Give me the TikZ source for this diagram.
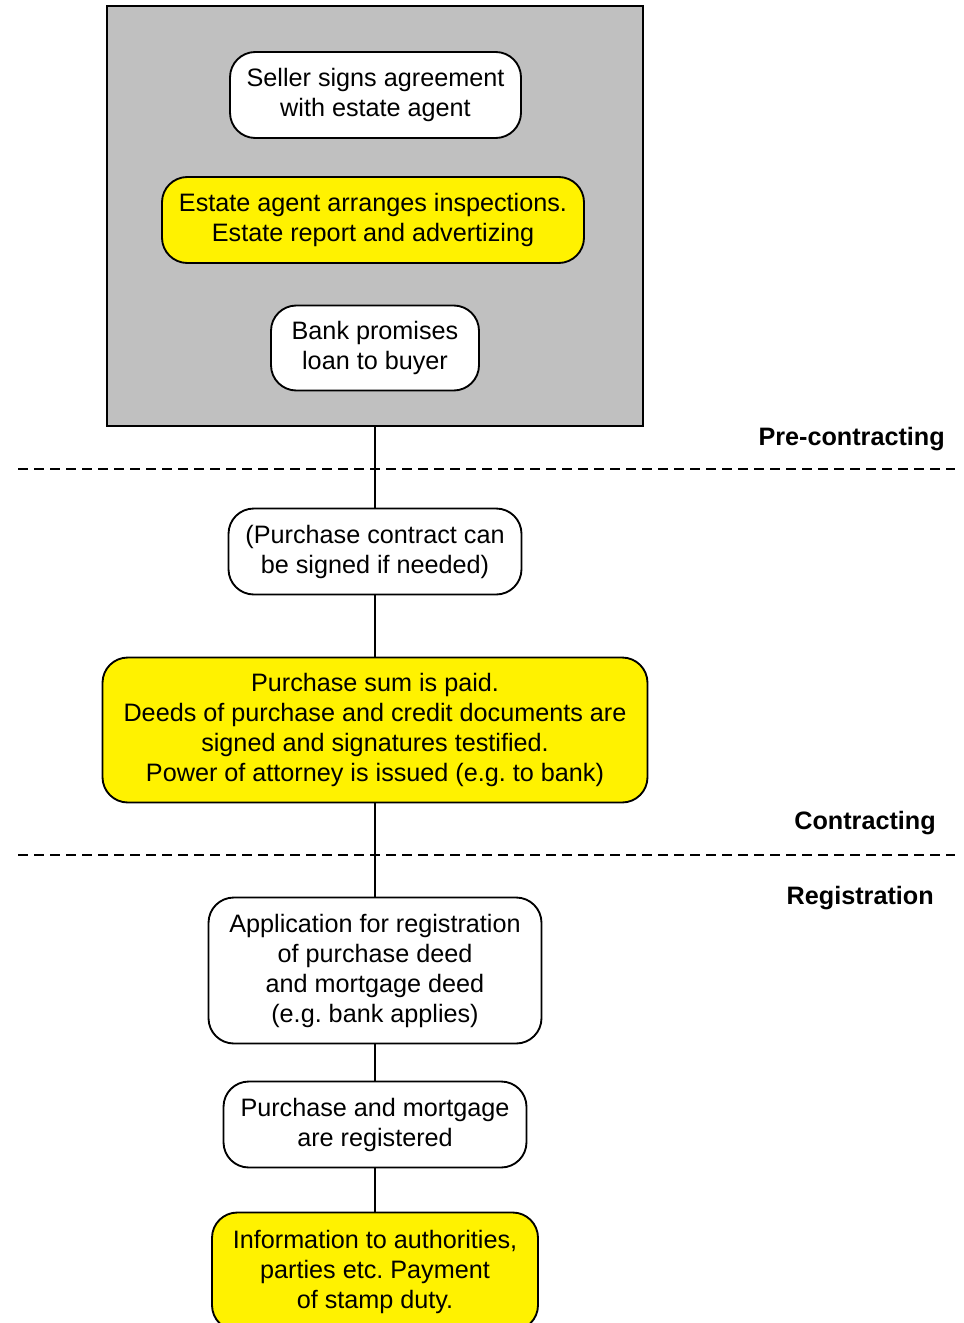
\documentclass[tikz,border=0pt]{standalone}
\usepackage{fontspec}
\setmainfont{Liberation Sans}
\frenchspacing
\begin{document}
\begin{tikzpicture}[x=0.75pt,y=-0.75pt,
  box/.style={draw=black, line width=1.4pt, rounded corners=19pt, align=center, inner sep=0pt,
    font=\fontsize{18.9}{22.5}\selectfont, fill=white},
  ybox/.style={box, fill=yellow},
  conn/.style={line width=1.5pt},
  sep/.style={line width=0.8pt, dash pattern=on 7.5pt off 4.5pt},
  phase/.style={font=\bfseries\fontsize{18.9}{21}\selectfont, anchor=east, inner sep=0pt}
]
\useasboundingbox (0,0) rectangle (963,1323);
\definecolor{panel}{RGB}{192,192,192}
\node[draw=black, line width=1.6pt, fill=panel, minimum width=536*0.75pt, minimum height=420*0.75pt, inner sep=0pt] (pre) at (375,216) {};
\node[box, minimum width=291*0.75pt, minimum height=86*0.75pt] (n1) at (375.5,95) {Seller signs agreement\\ with estate agent};
\node[ybox, minimum width=422*0.75pt, minimum height=86*0.75pt] (n2) at (373,220) {Estate agent arranges inspections.\\ Estate report and advertizing};
\node[box, minimum width=208*0.75pt, minimum height=85*0.75pt] (n3) at (375,348) {Bank promises\\ loan to buyer};

\coordinate (dl1) at (18,469);
\coordinate (dr1) at (955,469);
\coordinate (dl2) at (18,855);
\coordinate (dr2) at (955,855);
\draw[sep] (dl1) -- (dr1);
\draw[sep] (dl2) -- (dr2);

\node[phase] (p1) at (945,439) {Pre-contracting};
\node[phase] (p2) at (936,823) {Contracting};
\node[phase] (p3) at (934,898) {Registration};

\node[box, minimum width=293*0.75pt, minimum height=86*0.75pt] (n4) at (375,551.5) {(Purchase contract can\\ be signed if needed)};
\node[ybox, minimum width=545*0.75pt, minimum height=145*0.75pt] (n5) at (375,730) {Purchase sum is paid.\\ Deeds of purchase and credit documents are\\ signed and signatures testified.\\ Power of attorney is issued (e.g. to bank)};
\node[box, minimum width=333*0.75pt, minimum height=146*0.75pt] (n6) at (375,970.5) {Application for registration\\ of purchase deed\\ and mortgage deed\\ (e.g. bank applies)};
\node[box, minimum width=303*0.75pt, minimum height=86*0.75pt] (n7) at (375,1124.5) {Purchase and mortgage\\ are registered};
\node[ybox, minimum width=326*0.75pt, minimum height=118*0.75pt] (n8) at (375,1271.5) {Information to authorities,\\ parties etc. Payment\\ of stamp duty.};

\draw[conn] (pre.south) -- (n4.north);
\draw[conn] (n4) -- (n5);
\draw[conn] (n5) -- (n6);
\draw[conn] (n6) -- (n7);
\draw[conn] (n7) -- (n8);
\end{tikzpicture}
\end{document}
